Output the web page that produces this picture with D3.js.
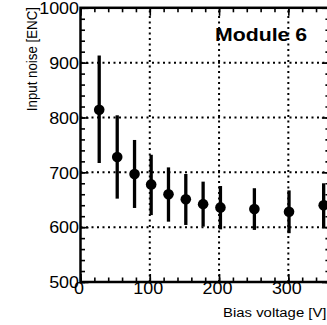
<!DOCTYPE html>
<html>
<head>
<meta charset="utf-8">
<script src="https://cdn.jsdelivr.net/npm/d3@7/dist/d3.min.js"></script>
<style>
html,body{margin:0;padding:0;background:#fff;}
svg{display:block;}
text{font-family:"Liberation Sans",Arial,Helvetica,sans-serif;fill:#000;}
</style>
</head>
<body>
<svg id="c" width="327" height="325"></svg>
<script>
// Data
const voltage = [27, 53, 78, 102, 127, 152, 177, 202, 251, 301, 351];
const noise   = [814, 728, 697, 678, 660, 651, 642, 636, 633, 628, 640];
const errUp   = [99, 76, 62, 54, 49, 46, 41, 39, 38, 39, 40];
const errDown = [97, 76, 62, 56, 50, 47, 41, 40, 38, 39, 40];
const xTickLabels = [0, 100, 200, 300];
const yTickLabels = [500, 600, 700, 800, 900, 1000];
const xTitle = "Bias voltage [V]";
const yTitle = "Input noise [ENC]";
const label = "Module 6";

const svg = d3.select("#c");
const SX = 1.12;
const x = d3.scaleLinear().domain([0, 360]).range([80.5, 329.9]);
const y = d3.scaleLinear().domain([500, 1000]).range([282, 7.8]);
const X0 = x.range()[0], X1 = x.range()[1];
const Y0 = y.range()[0], Y1 = y.range()[1];

// Dotted grid
const gridV = xTickLabels.filter(v => v > 0);
const gridH = yTickLabels.filter(v => v > 500 && v < 1000);
const grid = svg.append("g").attr("id", "grid");
grid.selectAll("line.v").data(gridV).enter().append("line").attr("class", "v")
  .attr("x1", d => x(d)).attr("x2", d => x(d)).attr("y1", Y0).attr("y2", Y1)
  .style("stroke", "#000").style("stroke-width", "2px").style("stroke-dasharray", "2 3.5");
grid.selectAll("line.h").data(gridH).enter().append("line").attr("class", "h")
  .attr("x1", X0).attr("x2", X1).attr("y1", d => y(d)).attr("y2", d => y(d))
  .style("stroke", "#000").style("stroke-width", "2px").style("stroke-dasharray", "2 3.5");

// Ticks via d3 axes (inward, major + minor)
const xMinor = d3.range(0, 361, 20);
const yMinor = d3.range(500, 1001, 20);
function styleAxis(g) {
  g.select(".domain").remove();
  g.selectAll("text").remove();
  g.selectAll("line").attr("stroke", "#000").attr("stroke-width", 1.6);
}
svg.append("g").attr("transform", `translate(0,${Y0})`)
  .call(d3.axisBottom(x).tickValues(xMinor).tickSize(-4.5)).call(styleAxis);
svg.append("g").attr("transform", `translate(0,${Y0})`)
  .call(d3.axisBottom(x).tickValues(xTickLabels).tickSize(-8)).call(styleAxis);
svg.append("g").attr("transform", `translate(0,${Y1})`)
  .call(d3.axisTop(x).tickValues(xMinor).tickSize(-4.5)).call(styleAxis);
svg.append("g").attr("transform", `translate(0,${Y1})`)
  .call(d3.axisTop(x).tickValues(xTickLabels).tickSize(-8)).call(styleAxis);
svg.append("g").attr("transform", `translate(${X0},0)`)
  .call(d3.axisLeft(y).tickValues(yMinor).tickSize(-4.5)).call(styleAxis);
svg.append("g").attr("transform", `translate(${X0},0)`)
  .call(d3.axisLeft(y).tickValues(yTickLabels).tickSize(-8)).call(styleAxis);
svg.append("g").attr("transform", `translate(${X1},0)`)
  .call(d3.axisRight(y).tickValues(yMinor).tickSize(-4.5)).call(styleAxis);
svg.append("g").attr("transform", `translate(${X1},0)`)
  .call(d3.axisRight(y).tickValues(yTickLabels).tickSize(-8)).call(styleAxis);

// Frame
svg.append("rect").attr("x", X0).attr("y", Y1).attr("width", X1 - X0).attr("height", Y0 - Y1)
  .attr("fill", "none").attr("stroke", "#000").attr("stroke-width", 2.5);

// Tick labels
svg.append("g").selectAll("text").data(yTickLabels).join("text")
  .attr("transform", d => `translate(79,${y(d) + 6.2}) scale(${SX},1)`)
  .attr("text-anchor", "end").attr("font-size", 16).text(d => d);
svg.append("g").selectAll("text").data(xTickLabels).join("text")
  .attr("transform", d => `translate(${x(d) - 1.5},${Y0 + 11.8}) scale(${SX},1)`)
  .attr("text-anchor", "middle").attr("font-size", 16).text(d => d);

// Titles
svg.append("text").attr("transform", `translate(326.5,316.5) scale(${SX},1)`)
  .attr("text-anchor", "end").attr("font-size", 13.3).text(xTitle);
svg.append("text").attr("transform", `translate(36.5,7) scale(${SX},1) rotate(-90)`)
  .attr("text-anchor", "end").attr("font-size", 13.3).text(yTitle);
svg.append("text").attr("transform", `translate(215,40.5) scale(${SX},1)`)
  .attr("font-size", 19).attr("font-weight", "bold").text(label);

// Data: error bars + markers
const pts = voltage.map((v, i) => ({v, n: noise[i], up: errUp[i], dn: errDown[i]}));
const gd = svg.append("g");
gd.selectAll("line").data(pts).join("line")
  .attr("x1", d => x(d.v)).attr("x2", d => x(d.v))
  .attr("y1", d => y(d.n + d.up)).attr("y2", d => y(d.n - d.dn))
  .attr("stroke", "#000").attr("stroke-width", 3.3);
gd.selectAll("circle").data(pts).join("circle")
  .attr("cx", d => x(d.v)).attr("cy", d => y(d.n)).attr("r", 5.3).attr("fill", "#000");
</script>
</body>
</html>
